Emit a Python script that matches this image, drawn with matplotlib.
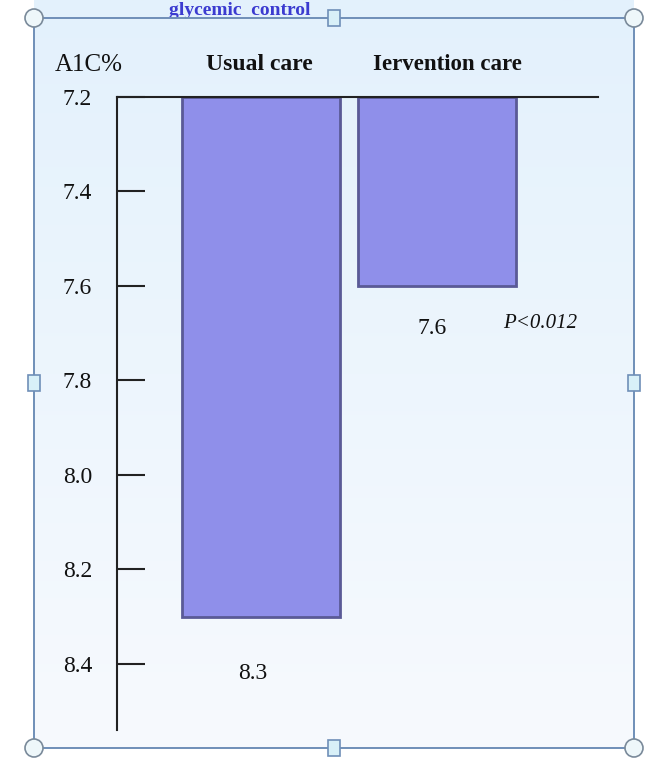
import numpy as np
import matplotlib.pyplot as plt
from matplotlib.patches import Rectangle, Circle

# ------------------------------------------------------------
# data
# ------------------------------------------------------------
groups = ["Usual care", "Iervention care"]
a1c_values = [8.3, 7.6]
value_labels = ["8.3", "7.6"]
y_ticks = [7.2, 7.4, 7.6, 7.8, 8.0, 8.2, 8.4]
p_value_text = "P<0.012"
title_text = "glycemic  control"

W, H = 650, 760
SERIF = ["Liberation Serif", "DejaVu Serif"]


def px_x(x):
    return x / W


def px_y(y):
    return 1 - y / H


fig = plt.figure(figsize=(W / 100, H / 100), dpi=100)
fig.patch.set_facecolor("white")

# ------------------------------------------------------------
# slide frame, gradient and selection handles
# ------------------------------------------------------------
bg = fig.add_axes([0, 0, 1, 1], zorder=0)
bg.set_xlim(0, W)
bg.set_ylim(H, 0)
bg.axis("off")

top_col = np.array([0xE3, 0xF1, 0xFC]) / 255
bot_col = np.array([0xF7, 0xFA, 0xFE]) / 255
t = np.linspace(0, 1, 256)[:, None]
grad = (top_col * (1 - t) + bot_col * t)[:, None, :]
bg.imshow(grad, extent=[34, 634, 748, 0], aspect="auto", zorder=0)

frame_col = "#6f8fb8"
bg.add_patch(Rectangle((34, 18), 600, 730, fill=False, ec=frame_col, lw=1.4, zorder=2))
for cx, cy in [(34, 18), (634, 18), (34, 748), (634, 748)]:
    bg.add_patch(Circle((cx, cy), 9, fc="#eef7fa", ec="#7a8a9a", lw=1.2, zorder=3))
for cx, cy in [(334, 18), (334, 748), (34, 383), (634, 383)]:
    bg.add_patch(Rectangle((cx - 6, cy - 8), 12, 16, fc="#d8f0f8", ec="#6f8fb8", lw=1.2, zorder=3))

bg.text(240, 15, title_text, ha="center", va="baseline", fontsize=14, fontweight="bold",
        color="#3b3bd0", family=SERIF, zorder=1)

# ------------------------------------------------------------
# bar chart
# ------------------------------------------------------------
left, right, top, bottom = 117, 598, 97, 730
ax = fig.add_axes([px_x(left), px_y(bottom), px_x(right) - px_x(left), (bottom - top) / H], zorder=1)
ax.patch.set_alpha(0)

ax.set_xlim(-0.8205, 1.92)
ax.set_ylim(8.54, 7.2)

x = np.arange(len(groups))
heights = [v - 7.2 for v in a1c_values]
ax.bar(x, heights, bottom=7.2, width=0.9, color="#8f8fea", edgecolor="#5a5a96", linewidth=2.0, zorder=2)

for spine in ["right", "bottom"]:
    ax.spines[spine].set_visible(False)
for spine in ["left", "top"]:
    ax.spines[spine].set_color("#222222")
    ax.spines[spine].set_linewidth(1.5)
ax.spines["top"].set_zorder(3)

ax.set_xticks([])
ax.set_yticks(y_ticks)
ax.set_yticklabels([f"{v:.1f}" for v in y_ticks], family=SERIF, fontsize=17, color="#111111")
ax.tick_params(axis="y", direction="in", length=20, width=1.5, color="#222222", pad=18)

# column headers above the chart
hdr = dict(ha="center", va="center", fontsize=17, fontweight="bold", family=SERIF, color="#111111")
bg.text(89, 65, "A1C%", **{**hdr, "fontweight": "normal", "fontsize": 18})
bg.text(259, 65, groups[0], **hdr)
bg.text(447, 65, groups[1], **{**hdr, "fontsize": 16.5})

# value labels below each bar
ax.text(x[0] - 0.045, 8.42, value_labels[0], ha="center", va="center", fontsize=17, family=SERIF, color="#111111")
ax.text(x[1] - 0.025, 7.69, value_labels[1], ha="center", va="center", fontsize=17, family=SERIF, color="#111111")
ax.text(x[1] + 0.59, 7.68, p_value_text, ha="center", va="center", fontsize=15, style="italic",
        family=SERIF, color="#111111")

fig.savefig("out.png", dpi=100)
